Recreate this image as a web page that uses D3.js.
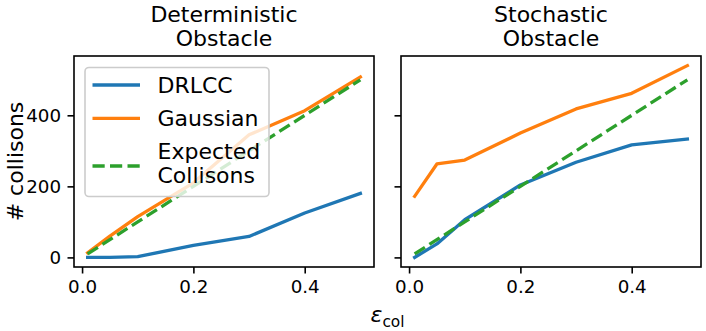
<!DOCTYPE html>
<html><head><meta charset="utf-8">
<script src="https://cdn.jsdelivr.net/npm/d3@7"></script>
<style>body{margin:0;background:#fff;} svg{display:block;} text{font-family:"DejaVu Sans",sans-serif;fill:#000;}</style>
</head><body>
<svg id="c" width="706" height="331"></svg>
<script>
const eps = [0.01, 0.05, 0.1, 0.2, 0.3, 0.4, 0.5];
const detDRLCC = [0, 0, 2, 34, 59, 125, 180];
const detGaussian = [13, 60, 115, 210, 345, 413, 508];
const detExpected = [10, 50, 100, 200, 300, 400, 500];
const stoDRLCC = [0, 38, 106, 204, 268, 317, 333];
const stoGaussian = [172, 263, 274, 350, 418, 462, 540];
const stoExpected = [10, 50, 100, 200, 300, 400, 500];
const xTicks = [0, 0.2, 0.4];
const yTicks = [0, 200, 400];
const titles = [["Deterministic", "Obstacle"], ["Stochastic", "Obstacle"]];
const seriesNames = ["DRLCC", "Gaussian", ["Expected", "Collisons"]];
const colors = ["#1f77b4", "#ff7f0e", "#2ca02c"];

(function () {
const svg = d3.select("#c");
const pTop = 56, pBottom = 267, pw = 300;
const lefts = [74, 401];
const allY = [].concat(detDRLCC, detGaussian, detExpected, stoDRLCC, stoGaussian, stoExpected);
const yMin = d3.min(allY), yMax = d3.max(allY);
const yPad = (yMax - yMin) * 0.05;
const y = d3.scaleLinear().domain([yMin - yPad, yMax + yPad]).range([pBottom, pTop]);
const xPad = (d3.max(eps) - d3.min(eps)) * 0.05;
const lw = 3.3;
const dash = "12.2,5.3";

const panels = [
  [detDRLCC, detGaussian, detExpected],
  [stoDRLCC, stoGaussian, stoExpected]
];

panels.forEach((series, pi) => {
  const L = lefts[pi];
  const x = d3.scaleLinear().domain([d3.min(eps) - xPad, d3.max(eps) + xPad]).range([L, L + pw]);
  const g = svg.append("g");
  const line = d3.line().x((d, i) => x(eps[i])).y(d => y(d));
  series.forEach((s, si) => {
    g.append("path").attr("d", line(s)).attr("fill", "none")
      .attr("stroke", colors[si]).attr("stroke-width", lw)
      .attr("stroke-linejoin", "round").attr("stroke-linecap", si === 2 ? "butt" : "square")
      .attr("stroke-dasharray", si === 2 ? dash : null);
  });
  g.append("rect").attr("x", L).attr("y", pTop).attr("width", pw).attr("height", pBottom - pTop)
    .attr("fill", "none").attr("stroke", "#000").attr("stroke-width", 1.6);
  const xa = g.append("g").attr("transform", `translate(0,${pBottom})`)
    .call(d3.axisBottom(x).tickValues(xTicks).tickFormat(d3.format(".1f")).tickSize(6.5).tickPadding(6.4));
  xa.select(".domain").remove();
  xa.selectAll("line").attr("stroke-width", 1.6);
  xa.selectAll("text").attr("font-size", 18.3).attr("font-family", "DejaVu Sans").attr("dy", "0.71em");
  const ya = g.append("g").attr("transform", `translate(${L},0)`)
    .call(d3.axisLeft(y).tickValues(yTicks).tickFormat(pi === 0 ? d3.format("d") : () => "").tickSize(6.5).tickPadding(6.4));
  ya.select(".domain").remove();
  ya.selectAll("line").attr("stroke-width", 1.6);
  ya.selectAll("text").attr("font-size", 18.3).attr("font-family", "DejaVu Sans");
  const cx = L + pw / 2;
  titles[pi].forEach((t, k) => {
    g.append("text").attr("x", cx).attr("y", 21.7 + k * 24).attr("text-anchor", "middle")
      .attr("font-size", 22).text(t);
  });
});

svg.append("text").attr("transform", `translate(22.5,${(pTop + pBottom) / 2}) rotate(-90)`)
  .attr("text-anchor", "middle").attr("font-size", 22).text("# collisons");

const xl = svg.append("text").attr("x", 387.5).attr("y", 322).attr("text-anchor", "middle").attr("font-size", 22);
xl.append("tspan").attr("font-style", "italic").text("ε");
xl.append("tspan").attr("font-size", 15.4).attr("dy", 5).text("col");

const lg = svg.append("g");
lg.append("rect").attr("x", 85).attr("y", 67.5).attr("width", 184).attr("height", 129).attr("rx", 4)
  .attr("fill", "#fff").attr("fill-opacity", 0.8).attr("stroke", "#cccccc").attr("stroke-width", 1.6);
const legY = [85, 118.3, 166];
seriesNames.forEach((n, i) => {
  lg.append("line").attr("x1", 92.5).attr("x2", 140).attr("y1", legY[i]).attr("y2", legY[i])
    .attr("stroke", colors[i]).attr("stroke-width", lw)
    .attr("stroke-dasharray", i === 2 ? dash : null);
  if (Array.isArray(n)) {
    n.forEach((t, k) => lg.append("text").attr("x", 157.5).attr("y", 159 + k * 24.3).attr("font-size", 22).text(t));
  } else {
    lg.append("text").attr("x", 157.5).attr("y", legY[i] + 8).attr("font-size", 22).text(n);
  }
});
})();
</script>
</body></html>
